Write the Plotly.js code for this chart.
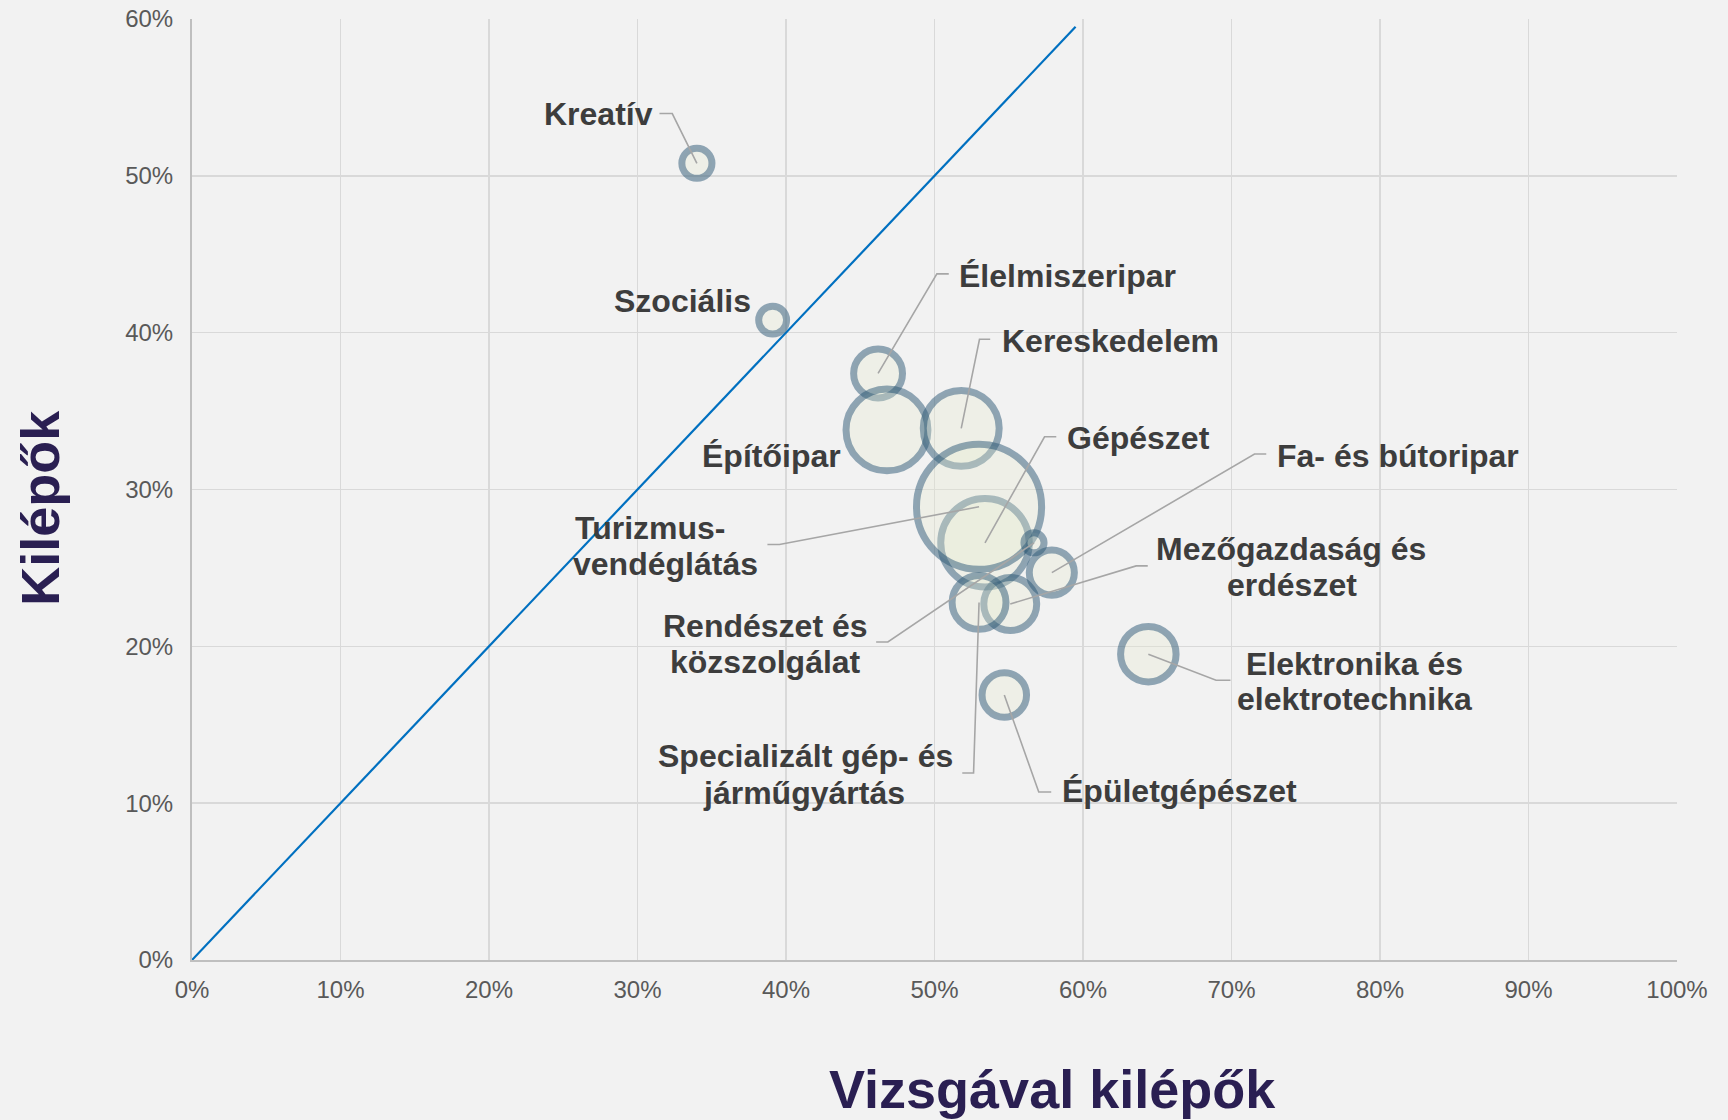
<!DOCTYPE html>
<html>
<head>
<meta charset="utf-8">
<script src="https://cdn.plot.ly/plotly-3.0.1.min.js"></script>
<style>
html,body{margin:0;padding:0;background:#f2f2f2;}
#chart{width:1728px;height:1120px;}
</style>
</head>
<body>
<div id="chart"></div>
<script>
// ---- data (draw order) ----
const categories = [
  'Élelmiszeripar',
  'Építőipar',
  'Kereskedelem',
  'Gépészet',
  'Turizmus-vendéglátás',
  'Kreatív',
  'Szociális',
  'Mezőgazdaság és erdészet',
  'Specializált gép- és járműgyártás',
  'Fa- és bútoripar',
  'Rendészet és közszolgálat',
  'Épületgépészet',
  'Elektronika és elektrotechnika'
];
// x: Vizsgával kilépők aránya
const vizsgavalKilepok = [0.462, 0.468, 0.518, 0.534, 0.530, 0.340, 0.391, 0.551, 0.530, 0.579, 0.567, 0.547, 0.644];
// y: Kilépők aránya
const kilepok = [0.374, 0.338, 0.339, 0.266, 0.289, 0.508, 0.408, 0.227, 0.228, 0.247, 0.266, 0.169, 0.195];
// bubble size (létszám)
const letszam = [2390, 6710, 5760, 7830, 15650, 906, 778, 2800, 2905, 2034, 404, 1980, 3080];

// diagonal reference line
const diagX = [0, 0.595];
const diagY = [0, 0.595];

const xTickVals = [0, 0.1, 0.2, 0.3, 0.4, 0.5, 0.6, 0.7, 0.8, 0.9, 1.0];
const xTickText = ['0%', '10%', '20%', '30%', '40%', '50%', '60%', '70%', '80%', '90%', '100%'];
const yTickVals = [0, 0.1, 0.2, 0.3, 0.4, 0.5, 0.6];
const yTickText = ['0%', '10%', '20%', '30%', '40%', '50%', '60%'];

// ---- label placement (layout only) ----
// lines: [text, x, y, xanchor]; leader: [startX, elbowX, y] (then to bubble centre)
const labelLayout = {
  'Kreatív': {lines: [['Kreatív', 0.3116, 0.5396, 'right']], leader: [0.3148, 0.3234, 0.5397]},
  'Szociális': {lines: [['Szociális', 0.3777, 0.4204, 'right']]},
  'Élelmiszeripar': {lines: [['Élelmiszeripar', 0.5150, 0.4363, 'left']], leader: [0.5096, 0.5016, 0.4375]},
  'Kereskedelem': {lines: [['Kereskedelem', 0.5444, 0.3948, 'left']], leader: [0.5375, 0.5303, 0.3958]},
  'Gépészet': {lines: [['Gépészet', 0.5880, 0.3331, 'left']], leader: [0.5820, 0.5741, 0.3336]},
  'Fa- és bútoripar': {lines: [['Fa- és bútoripar', 0.7290, 0.3214, 'left']], leader: [0.7234, 0.7155, 0.3226]},
  'Mezőgazdaság és erdészet': {lines: [['Mezőgazdaság és', 0.7404, 0.2621, 'center'], ['erdészet', 0.7410, 0.2390, 'center']], leader: [0.6436, 0.6358, 0.2513]},
  'Elektronika és elektrotechnika': {lines: [['Elektronika és', 0.7828, 0.1890, 'center'], ['elektrotechnika', 0.7828, 0.1664, 'center']], leader: [0.6993, 0.6896, 0.1784]},
  'Épületgépészet': {lines: [['Épületgépészet', 0.5842, 0.1075, 'left']], leader: [0.5786, 0.5702, 0.1071]},
  'Specializált gép- és járműgyártás': {lines: [['Specializált gép- és', 0.4131, 0.1300, 'center'], ['járműgyártás', 0.4124, 0.1066, 'center']], leader: [0.5187, 0.5263, 0.1192]},
  'Rendészet és közszolgálat': {lines: [['Rendészet és', 0.3862, 0.2131, 'center'], ['közszolgálat', 0.3862, 0.1903, 'center']], leader: [0.4607, 0.4686, 0.2028]},
  'Turizmus-vendéglátás': {lines: [['Turizmus-', 0.3089, 0.2754, 'center'], ['vendéglátás', 0.3190, 0.2523, 'center']], leader: [0.3875, 0.3956, 0.2649]},
  'Építőipar': {lines: [['Építőipar', 0.3902, 0.3213, 'center']]}
};

const FONT = '"Liberation Sans", Arial, sans-serif';

const annotations = [];
const shapes = [];
categories.forEach((c, i) => {
  const L = labelLayout[c];
  if (!L) return;
  L.lines.forEach(l => {
    annotations.push({
      text: '<b>' + l[0] + '</b>', x: l[1], y: l[2], xref: 'x', yref: 'y',
      xanchor: l[3], yanchor: 'middle', showarrow: false,
      font: {family: FONT, size: 32, color: '#3d3d3d'}
    });
  });
  if (L.leader) {
    const [sx, ex, ly] = L.leader;
    shapes.push({
      type: 'path', xref: 'x', yref: 'y', layer: 'above',
      path: `M ${sx},${ly} L ${ex},${ly} L ${vizsgavalKilepok[i]},${kilepok[i]}`,
      line: {color: '#a6a6a6', width: 1.6}
    });
  }
});

// axis titles
annotations.push({
  text: '<b>Vizsgával kilépők</b>', xref: 'paper', yref: 'paper', x: 0.5795, y: -0.1370,
  xanchor: 'center', yanchor: 'middle', showarrow: false,
  font: {family: FONT, size: 54, color: '#2a1f52'}
});
annotations.push({
  text: '<b>Kilépők</b>', xref: 'paper', yref: 'paper', x: -0.1029, y: 0.4808,
  xanchor: 'center', yanchor: 'middle', showarrow: false, textangle: -90,
  font: {family: FONT, size: 54, color: '#2a1f52'}
});

const traces = [
  {
    type: 'scatter', mode: 'lines', x: diagX, y: diagY,
    line: {color: '#0070c0', width: 2.2}, hoverinfo: 'skip', showlegend: false
  },
  {
    type: 'scatter', mode: 'markers', x: vizsgavalKilepok, y: kilepok, text: categories,
    marker: {
      size: letszam, sizemode: 'area', sizeref: 2,
      color: 'rgba(232,236,208,0.42)',
      line: {color: 'rgba(42,86,116,0.7)', width: 7}
    },
    hoverinfo: 'text', showlegend: false
  }
];

const layout = {
  width: 1728, height: 1120,
  margin: {l: 192, r: 51, t: 19, b: 160},
  paper_bgcolor: '#f2f2f2', plot_bgcolor: '#f2f2f2',
  showlegend: false,
  xaxis: {
    range: [0, 1], tickvals: xTickVals, ticktext: xTickText,
    showgrid: true, gridcolor: '#d9d9d9', gridwidth: 1.5,
    showline: true, linecolor: '#bfbfbf', linewidth: 2,
    zeroline: false, ticks: '', ticklabelstandoff: 7,
    tickfont: {family: FONT, size: 24, color: '#595959'}, fixedrange: true
  },
  yaxis: {
    range: [0, 0.6], tickvals: yTickVals, ticktext: yTickText,
    showgrid: true, gridcolor: '#d9d9d9', gridwidth: 1.5,
    showline: true, linecolor: '#bfbfbf', linewidth: 2,
    zeroline: false, ticks: '', ticklabelstandoff: 12,
    tickfont: {family: FONT, size: 24, color: '#595959'}, fixedrange: true
  },
  annotations: annotations,
  shapes: shapes
};

Plotly.newPlot('chart', traces, layout, {displayModeBar: false, staticPlot: true});
</script>
</body>
</html>
